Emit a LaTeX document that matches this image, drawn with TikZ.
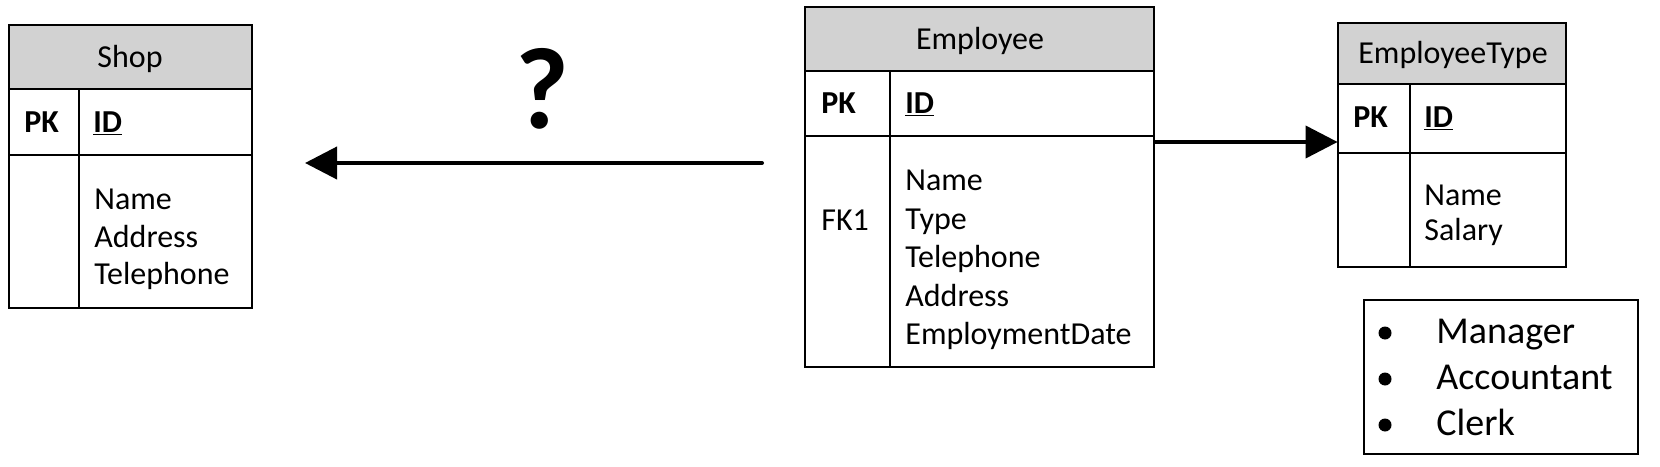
\documentclass[tikz,border=0pt]{standalone}
\usepackage{fontspec}
\setmainfont{Carlito}
\usetikzlibrary{arrows.meta,fit}
\definecolor{hdr}{RGB}{210,210,210}
\begin{document}
\begin{tikzpicture}[x=0.5pt,y=-0.5pt,
  cell/.style={draw, line width=1pt, inner sep=0pt},
  headcell/.style={cell, fill=hdr},
  txt/.style={anchor=base west, inner sep=0pt, font=\fontsize{16}{19}\selectfont},
  ctxt/.style={anchor=base, inner sep=0pt, font=\fontsize{16}{19}\selectfont},
  btxt/.style={anchor=base west, inner sep=0pt, font=\fontsize{19}{22}\selectfont},
  arr/.style={line width=2pt, -{Triangle[length=16pt,width=16pt]}}]
\useasboundingbox (0,0) rectangle (1660,466);
\fill[white] (0,0) rectangle (1660,466);

% ---------- Shop ----------
\node[headcell, fit={(9,25) (252,89)}] (shophead) {};
\node[cell, fit={(9,89) (79,155)}] (shoppkl) {};
\node[cell, fit={(79,89) (252,155)}] (shoppkr) {};
\node[cell, fit={(9,155) (79,308)}] (shopbl) {};
\node[cell, fit={(79,155) (252,308)}] (shopbr) {};
\node[ctxt] (shopt) at (130,67) {Shop};
\node[txt] (shoppk) at (24,132) {\textbf{PK}};
\node[txt] (shopid) at (93,132) {\underline{\textbf{ID}}};
\node[txt] (shopf1) at (94,209) {Name};
\node[txt] (shopf2) at (94,247) {Address};
\node[txt] (shopf3) at (94,284) {Telephone};

% ---------- Employee ----------
\node[headcell, fit={(805,7) (1154,71)}] (emphead) {};
\node[cell, fit={(805,71) (890,136)}] (emppkl) {};
\node[cell, fit={(890,71) (1154,136)}] (emppkr) {};
\node[cell, fit={(805,136) (890,367)}] (empbl) {};
\node[cell, fit={(890,136) (1154,367)}] (empbr) {};
\node[ctxt] (empt) at (980,49) {Employee};
\node[txt] (emppk) at (821,113) {\textbf{PK}};
\node[txt] (empid) at (905,113) {\underline{\textbf{ID}}};
\node[txt] (empfk) at (821,230) {FK1};
\node[txt] (empf1) at (905,190) {Name};
\node[txt] (empf2) at (905,229) {Type};
\node[txt] (empf3) at (905,267) {Telephone};
\node[txt] (empf4) at (905,306) {Address};
\node[txt] (empf5) at (905,344) {EmploymentDate};

% ---------- EmployeeType ----------
\node[headcell, fit={(1338,23) (1566,84)}] (ethead) {};
\node[cell, fit={(1338,84) (1410,153)}] (etpkl) {};
\node[cell, fit={(1410,84) (1566,153)}] (etpkr) {};
\node[cell, fit={(1338,153) (1410,267)}] (etbl) {};
\node[cell, fit={(1410,153) (1566,267)}] (etbr) {};
\node[ctxt] (ett) at (1453,63) {EmployeeType};
\node[txt] (etpk) at (1353,127) {\textbf{PK}};
\node[txt] (etid) at (1424,127) {\underline{\textbf{ID}}};
\node[txt] (etf1) at (1424,205) {Name};
\node[txt] (etf2) at (1424,240) {Salary};
\node[fit={(1338,23) (1566,267)}, inner sep=0pt] (et) {};
\node[fit={(805,7) (1154,367)}, inner sep=0pt] (emp) {};

% ---------- list box ----------
\node[cell, fit={(1364,300) (1638,454)}] (types) {};
\fill (1385,333) circle (6.5);
\fill (1385,379) circle (6.5);
\fill (1385,425) circle (6.5);
\node[btxt] (t1) at (1436,343) {Manager};
\node[btxt] (t2) at (1436,389) {Accountant};
\node[btxt] (t3) at (1436,435) {Clerk};

% ---------- arrows ----------
\coordinate (q1) at (762,163);
\coordinate (q2) at (305,163);
\draw[arr, line cap=round] (q1) -- (q2);
\node[anchor=base, inner sep=0pt, font=\fontsize{58}{60}\selectfont\bfseries] (qm) at (542,128) {?};
\draw[arr] ([yshift=1.5pt]et.west -| emp.east) -- ([yshift=1.5pt]et.west);
\end{tikzpicture}
\end{document}
